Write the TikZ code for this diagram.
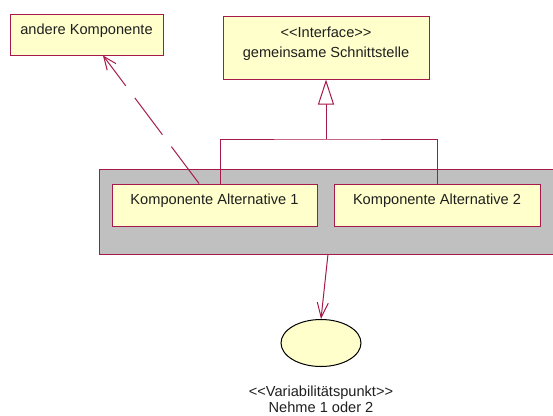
\documentclass[tikz,border=0pt]{standalone}
\usepackage{fontspec}
\setmainfont{Liberation Sans}
\usetikzlibrary{arrows.meta,calc,shapes.geometric}
\definecolor{umlline}{RGB}{165,25,75}
\definecolor{umlfill}{RGB}{255,255,204}
\definecolor{umlgray}{RGB}{192,192,192}
\tikzset{
  umlbox/.style={draw=umlline, fill=umlfill, line width=1pt, rectangle, inner sep=0pt},
  umltext/.style={anchor=base, inner sep=0pt, font=\fontsize{14.6pt}{18pt}\selectfont, text=black!88},
  umlconn/.style={draw=umlline, line width=1pt},
  realize/.style={umlconn, -{Triangle[open, length=25pt, width=16pt, line width=1pt, fill=white]}},
  depend/.style={umlconn, dash pattern=on 46pt off 15pt, -{Straight Barb[length=13pt, width=11pt, line width=1pt]}},
  usearrow/.style={umlconn, -{Straight Barb[length=15pt, width=11pt, line width=1pt]}},
}
\begin{document}
\begin{tikzpicture}[x=1pt, y=-1pt]
\useasboundingbox (0,0) rectangle (553,415);

% package frame holding the two alternatives (cut at the right edge)
\draw[umlconn, fill=umlgray] (560,169) -- (99,169) -- (99,254) -- (560,254);

% component boxes
\node[umlbox, minimum width=153pt, minimum height=41pt] (other) at (86.5,34.5) {};
\node[umlbox, minimum width=206pt, minimum height=63pt] (iface) at (326,47.5) {};
\node[umlbox, minimum width=205pt, minimum height=42pt] (alt1) at (214.5,205) {};
\node[umlbox, minimum width=206pt, minimum height=42pt] (alt2) at (437,205) {};

% variation point
\node[draw=black, fill=umlfill, line width=1pt, ellipse, minimum width=80pt, minimum height=47pt, inner sep=0pt] (vp) at (321,343) {};

% labels (the empty groups keep << and >> from turning into guillemets)
\node[umltext] (otherlbl) at (86.5,34) {andere Komponente};
\node[umltext] (ifacest) at (326,37) {<{}<Interface>{}>};
\node[umltext] (ifacenm) at (326,57) {gemeinsame Schnittstelle};
\node[umltext] (alt1lbl) at (214.5,204) {Komponente Alternative 1};
\node[umltext] (alt2lbl) at (437,204) {Komponente Alternative 2};
\node[umltext] (vpst) at (321,396.5) {<{}<Variabilitätspunkt>{}>};
\node[umltext] (vpnm) at (321,412) {Nehme 1 oder 2};

% realization of the common interface
\coordinate (join) at (326,139);
\draw[umlconn] ($(alt1.north)+(5.5,0)$) |- (join) -| (alt2.north);
\draw[realize] (join) -- (iface.south);

% dependency to the other component
\draw[depend] ($(alt1.north)+(-15.5,0)$) -- ($(other.south)+(16.5,0)$);

% link from the package to the variation point
\coordinate (pkgbottom) at (328,254);
\draw[usearrow] (pkgbottom) -- (vp.north);
\end{tikzpicture}
\end{document}
